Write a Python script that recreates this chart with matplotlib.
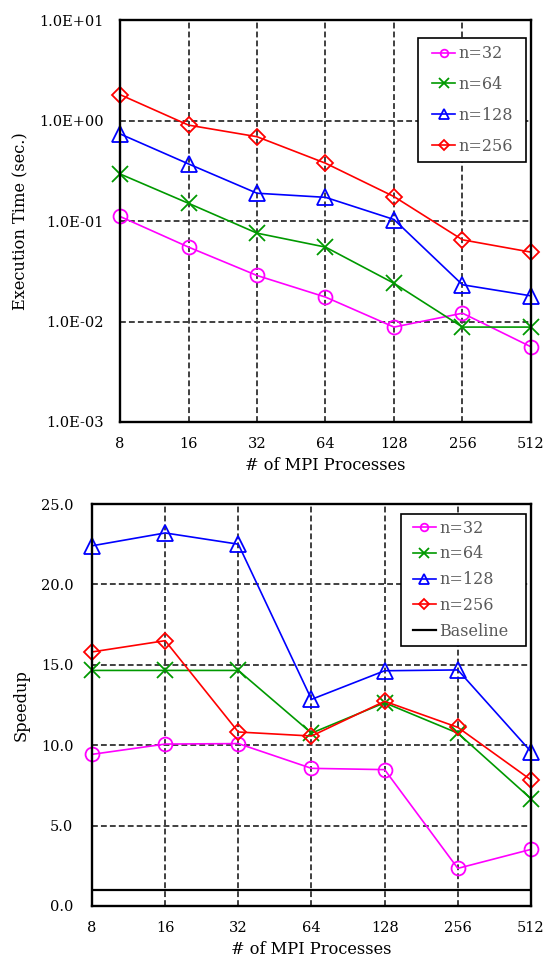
"""
Execution time and speedup vs number of MPI processes (two stacked panels).
"""

import matplotlib
matplotlib.use('Agg')
import matplotlib.pyplot as plt
from matplotlib.patches import Rectangle

plt.rcParams['font.family'] = ['DejaVu Serif']

# Data
procs = ['8', '16', '32', '64', '128', '256', '512']
series_labels = ['n=32', 'n=64', 'n=128', 'n=256']

time_n32 = [0.111, 0.055, 0.0287, 0.0175, 0.0088, 0.0121, 0.0056]
time_n64 = [0.294, 0.150, 0.0757, 0.055, 0.024, 0.0088, 0.0088]
time_n128 = [0.736, 0.37, 0.189, 0.172, 0.1035, 0.0232, 0.018]
time_n256 = [1.81, 0.90, 0.69, 0.376, 0.175, 0.065, 0.049]

speed_n32 = [9.43, 10.07, 10.1, 8.56, 8.48, 2.34, 3.52]
speed_n64 = [14.65, 14.65, 14.65, 10.75, 12.64, 10.75, 6.67]
speed_n128 = [22.4, 23.2, 22.5, 12.85, 14.63, 14.68, 9.6]
speed_n256 = [15.8, 16.5, 10.82, 10.57, 12.73, 11.11, 7.84]
baseline = 1.0

time_ticks = [1e-3, 1e-2, 1e-1, 1e0, 1e1]
time_tick_labels = ['1.0E-03', '1.0E-02', '1.0E-01', '1.0E+00', '1.0E+01']
speed_ticks = [0, 5, 10, 15, 20, 25]
speed_tick_labels = ['0.0', '5.0', '10.0', '15.0', '20.0', '25.0']

# Styles
styles = [
	dict(color='#ff00ff', marker='o', ms=10, lms=5.5),
	dict(color='#009900', marker='x', ms=12, lms=7),
	dict(color='#0000ff', marker='^', ms=11, lms=6.5),
	dict(color='#ff0000', marker='D', ms=8.5, lms=5),
]
FS = 10.5
LFS = 11.7
LEG_FS = 11.5
GRID = dict(color='#404040', linestyle=(0, (3, 1.6)), linewidth=1.4)

fig = plt.figure(figsize=(5.46, 9.58), dpi=100)
ax1 = fig.add_axes([0.2198, 0.5595, 0.7527, 0.4196])
ax2 = fig.add_axes([0.1685, 0.0543, 0.8040, 0.4196])

xs = list(range(len(procs)))


def style_axes(ax, ypad):
	ax.set_xlim(0, len(procs) - 1)
	ax.set_xticks(xs)
	ax.set_xticklabels(procs, fontsize=FS)
	ax.grid(True, **GRID)
	ax.set_axisbelow(True)
	ax.tick_params(length=0, labelsize=FS)
	ax.tick_params(axis='x', pad=11)
	ax.tick_params(axis='y', pad=ypad)
	for s in ax.spines.values():
		s.set_linewidth(1.7)
		s.set_color('black')
		s.set_zorder(6)
	ax.set_xlabel('# of MPI Processes', fontsize=LFS, labelpad=4)


def draw_series(ax, series):
	handles = []
	for vals, lab, st in zip(series, series_labels, styles):
		ax.plot(xs, vals, color=st['color'], marker=st['marker'], markersize=st['ms'],
				markerfacecolor='none', markeredgecolor=st['color'], markeredgewidth=1.3,
				linewidth=1.2, clip_on=False, zorder=3)
		h, = ax.plot([], [], color=st['color'], marker=st['marker'], markersize=st['lms'],
					 markerfacecolor='none', markeredgecolor=st['color'], markeredgewidth=1.3,
					 linewidth=1.2, label=lab)
		handles.append(h)
	return handles


def legend_box(ax, handles, rect, anchor, spacing):
	x0, y0, x1, y1 = rect
	ax.add_patch(Rectangle((x0, y0), x1 - x0, y1 - y0, transform=ax.transAxes,
						   facecolor='white', edgecolor='black', linewidth=1.2, zorder=4))
	leg = ax.legend(handles=handles, loc='upper left', bbox_to_anchor=anchor,
					fontsize=LEG_FS, frameon=False, borderpad=0, borderaxespad=0,
					handlelength=1.45, handletextpad=0.2, labelspacing=spacing)
	leg.set_zorder(5)
	for t in leg.get_texts():
		t.set_color('#5a5a5a')
	return leg


# Top panel: execution time
h1 = draw_series(ax1, [time_n32, time_n64, time_n128, time_n256])
ax1.set_yscale('log')
ax1.set_ylim(1e-3, 1e1)
ax1.set_yticks(time_ticks)
ax1.set_yticklabels(time_tick_labels)
ax1.minorticks_off()
style_axes(ax1, 11.5)
ax1.set_ylabel('Execution Time (sec.)', fontsize=LFS, labelpad=7)
legend_box(ax1, h1, (0.724, 0.646, 0.987, 0.956), (0.759, 0.937), 0.86)

# Bottom panel: speedup
h2 = draw_series(ax2, [speed_n32, speed_n64, speed_n128, speed_n256])
hb, = ax2.plot(xs, [baseline] * len(xs), color='black', linewidth=1.6, label='Baseline', zorder=3)
ax2.set_ylim(0, 25)
ax2.set_yticks(speed_ticks)
ax2.set_yticklabels(speed_tick_labels)
style_axes(ax2, 13.5)
ax2.set_ylabel('Speedup', fontsize=LFS, labelpad=8)
legend_box(ax2, h2 + [hb], (0.704, 0.647, 0.989, 0.975), (0.731, 0.961), 0.55)

plt.savefig('out.png', dpi=100)
plt.close()
